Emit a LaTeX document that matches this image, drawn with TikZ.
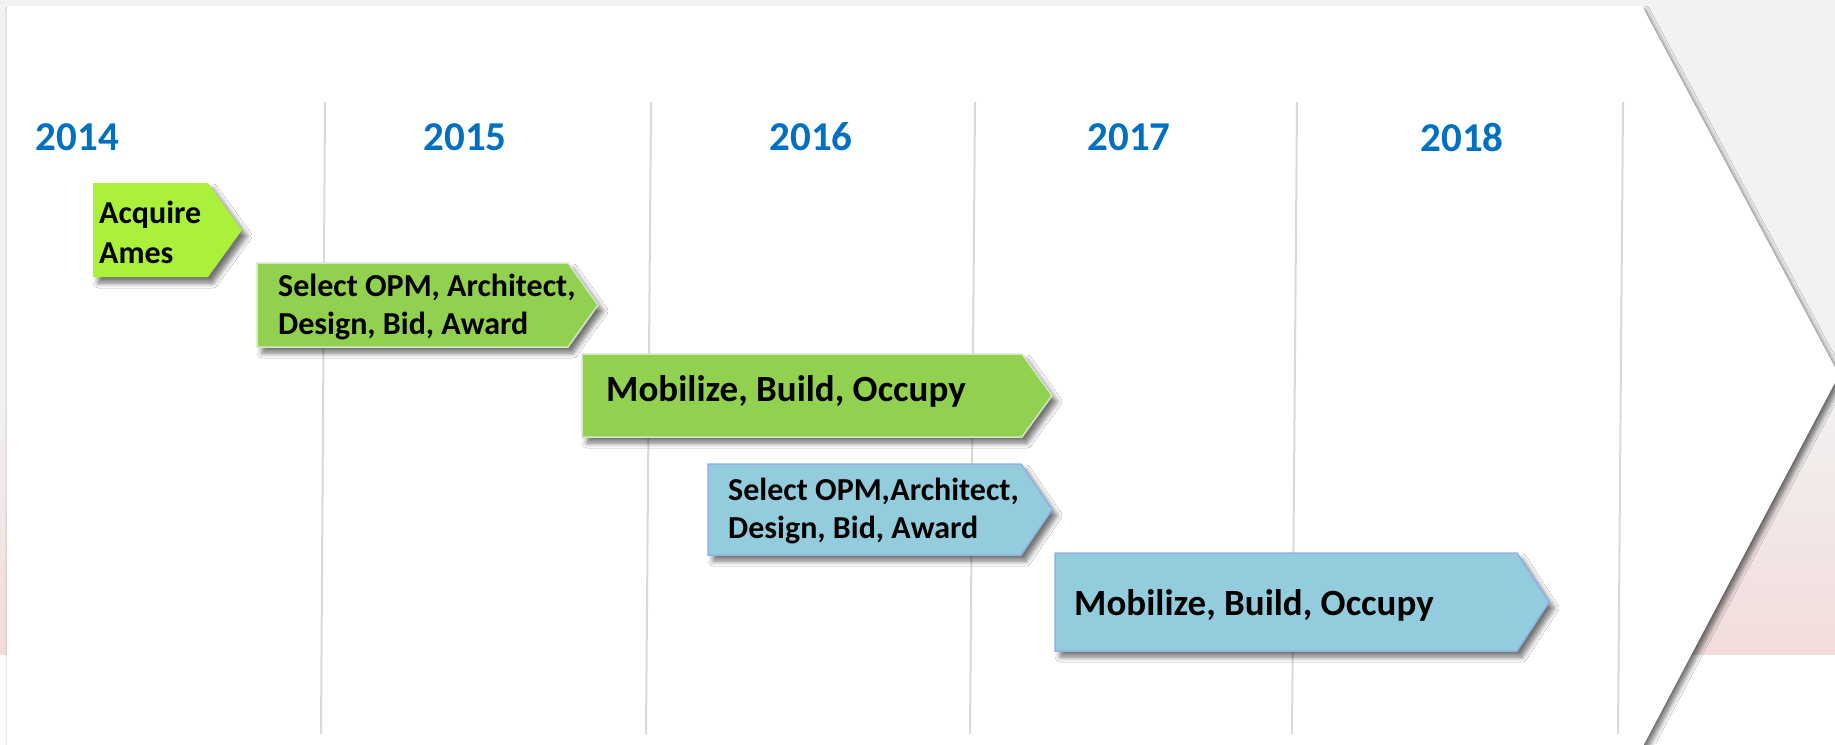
\documentclass[tikz,border=0pt]{standalone}
\usepackage{fontspec}
\setmainfont{Carlito}
\usetikzlibrary{shadows.blur}
\definecolor{bggray}{HTML}{F2F2F2}
\definecolor{bgpink}{HTML}{F2DCDB}
\definecolor{yearblue}{HTML}{0070C0}
\definecolor{limegreen}{HTML}{ABF03A}
\definecolor{leaf}{HTML}{92D050}
\definecolor{leafedge}{HTML}{D4E6C4}
\definecolor{sky}{HTML}{93CDDD}
\definecolor{skyedge}{HTML}{8DB3E2}
\definecolor{gridline}{HTML}{D9D9D9}
\tikzset{
  yearlbl/.style={text=yearblue, font=\fontsize{41}{49}\selectfont\bfseries, inner sep=0pt},
  twolbl/.style={anchor=west, align=left, inner sep=0pt, font=\fontsize{32}{38}\selectfont\bfseries},
  onelbl/.style={anchor=base west, inner sep=0pt, font=\fontsize{37}{44}\selectfont\bfseries},
  boxshadow/.style={blur shadow={shadow xshift=5pt, shadow yshift=-6pt, shadow blur steps=6, shadow blur radius=5pt, shadow opacity=55}},
  greenbox/.style={fill=leaf, draw=leafedge, line width=1.5pt, boxshadow},
  bluebox/.style={fill=sky, draw=skyedge, line width=1.5pt, boxshadow},
  vline/.style={draw=gridline, line width=2pt},
}
\begin{document}
\begin{tikzpicture}[x=1pt,y=-1pt]
\useasboundingbox (0,0) rectangle (1835,744);
% background
\fill[bggray] (0,0) rectangle (1835,381);
\fill[top color=bggray, bottom color=bgpink] (0,380) rectangle (1835,655);
\fill[white] (0,655) rectangle (1835,744);
% big arrow panel
\fill[white, blur shadow={shadow xshift=3pt, shadow yshift=-5pt, shadow blur steps=8, shadow blur radius=5pt, shadow opacity=60}]
  (7,6) -- (1642,6) -- (1839,375) -- (1641,750) -- (7,750) -- cycle;
% grid lines
\draw[vline] (325,102) -- (321,734);
\draw[vline] (651,102) -- (646,734);
\draw[vline] (975,102) -- (970,734);
\draw[vline] (1297,102) -- (1292,734);
\draw[vline] (1623,102) -- (1618,734);
% years
\node[yearlbl] (y2014) at (77.5,137) {2014};
\node[yearlbl] (y2015) at (465,137) {2015};
\node[yearlbl] (y2016) at (811,137) {2016};
\node[yearlbl] (y2017) at (1129,137) {2017};
\node[yearlbl] (y2018) at (1462,137) {2018};
% boxes
\fill[limegreen, boxshadow] (93,183) -- (208,183) -- (242,230) -- (208,277) -- (93,277) -- cycle;
\node[twolbl, font=\fontsize{32}{40}\selectfont\bfseries] (acquire) at (99,232.5) {Acquire\\Ames};

\path[greenbox] (257,263) -- (568,263) -- (598,305) -- (568,347) -- (257,347) -- cycle;
\node[twolbl] (select1) at (278,307) {Select OPM, Architect,\\Design, Bid, Award};

\path[greenbox] (582,354) -- (1022,354) -- (1052,395.5) -- (1022,437) -- (582,437) -- cycle;
\node[onelbl] (build1) at (606,401) {Mobilize, Build, Occupy};

\path[bluebox] (708,464) -- (1021,464) -- (1052,509.5) -- (1021,555) -- (708,555) -- cycle;
\node[twolbl] (select2) at (728,511) {Select OPM,Architect,\\Design, Bid, Award};

\path[bluebox] (1055,553) -- (1517,553) -- (1549,602) -- (1517,651) -- (1055,651) -- cycle;
\node[onelbl] (build2) at (1074,615) {Mobilize, Build, Occupy};
\end{tikzpicture}
\end{document}
